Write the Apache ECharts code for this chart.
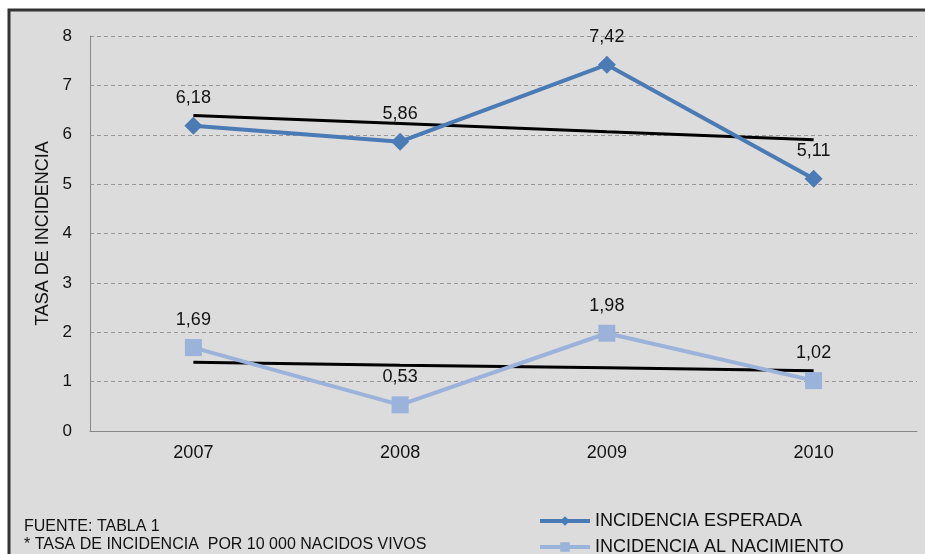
<!DOCTYPE html>
<html>
<head>
<meta charset="utf-8">
<script src="https://cdn.jsdelivr.net/npm/echarts@6/dist/echarts.min.js"></script>
<style>
  html, body { margin: 0; padding: 0; background: #fff; }
  #chart { width: 925px; height: 554px; }
</style>
</head>
<body>
<div id="chart"></div>
<script>
const years = ['2007', '2008', '2009', '2010'];
const esperada = [6.18, 5.86, 7.42, 5.11];
const nacimiento = [1.69, 0.53, 1.98, 1.02];
// trend lines
const trendEsperada = [6.39, 6.23, 6.06, 5.90];
const trendNacimiento = [1.39, 1.33, 1.28, 1.22];
const yTicks = [0, 8, 1];

const font = 'Liberation Sans, Arial, sans-serif';
const fmt = p => String(p.value).replace('.', ',');

const legendBase = {
    left: 533,
    itemWidth: 50, itemHeight: 12, itemGap: 0,
    lineStyle: { width: 4 },
    textStyle: { fontFamily: font, fontSize: 18, color: '#111' }
};

let chart = echarts.init(document.getElementById('chart'));
chart.setOption({
    backgroundColor: '#fff',
    animation: false,
    graphic: [
        {
            type: 'rect',
            z: -10,
            shape: { x: 9, y: 10, width: 930, height: 560 },
            style: { fill: '#dcdcdc', stroke: '#333', lineWidth: 3 }
        },
        {
            type: 'text',
            left: 24, top: 519,
            style: { text: 'FUENTE: TABLA 1', font: '16px ' + font, fill: '#111' }
        },
        {
            type: 'text',
            left: 24, top: 537,
            style: { text: '* TASA DE INCIDENCIA  POR 10 000 NACIDOS VIVOS', font: '16px ' + font, fill: '#111' }
        }
    ],
    grid: { left: 90, right: 8, top: 36, bottom: 123 },
    legend: [
        Object.assign({ top: 507, data: ['INCIDENCIA ESPERADA'] }, legendBase),
        Object.assign({ top: 533, data: ['INCIDENCIA AL NACIMIENTO'] }, legendBase)
    ],
    xAxis: {
        type: 'category',
        data: years,
        boundaryGap: true,
        axisLine: { lineStyle: { color: '#888' } },
        axisTick: { show: false },
        axisLabel: { fontFamily: font, fontSize: 18, color: '#111', margin: 13 }
    },
    yAxis: {
        type: 'value',
        min: yTicks[0], max: yTicks[1], interval: yTicks[2],
        name: 'TASA DE INCIDENCIA',
        nameLocation: 'middle',
        nameGap: 36,
        nameTextStyle: { fontFamily: font, fontSize: 18, color: '#111' },
        axisLine: { show: true, lineStyle: { color: '#888' } },
        axisTick: { show: false },
        axisLabel: { fontFamily: font, fontSize: 17, color: '#111', margin: 18 },
        splitLine: { lineStyle: { color: '#999', type: [4, 3] } }
    },
    series: [
        {
            name: 'INCIDENCIA ESPERADA',
            type: 'line',
            data: esperada,
            symbol: 'diamond',
            symbolSize: 18,
            color: '#4a7bb5',
            lineStyle: { width: 4, color: '#4a7bb5' },
            label: { show: true, position: 'top', distance: 10, formatter: fmt,
                fontFamily: font, fontSize: 18, color: '#111' },
            z: 3
        },
        {
            name: 'INCIDENCIA AL NACIMIENTO',
            type: 'line',
            data: nacimiento,
            symbol: 'rect',
            symbolSize: 17,
            color: '#9bb3da',
            lineStyle: { width: 4, color: '#9bb3da' },
            label: { show: true, position: 'top', distance: 10, formatter: fmt,
                fontFamily: font, fontSize: 18, color: '#111' },
            z: 3
        },
        {
            name: 'trend1',
            type: 'line',
            data: trendEsperada,
            symbol: 'none',
            lineStyle: { width: 3, color: '#000' },
            z: 2
        },
        {
            name: 'trend2',
            type: 'line',
            data: trendNacimiento,
            symbol: 'none',
            lineStyle: { width: 3, color: '#000' },
            z: 2
        }
    ]
});
</script>
</body>
</html>
